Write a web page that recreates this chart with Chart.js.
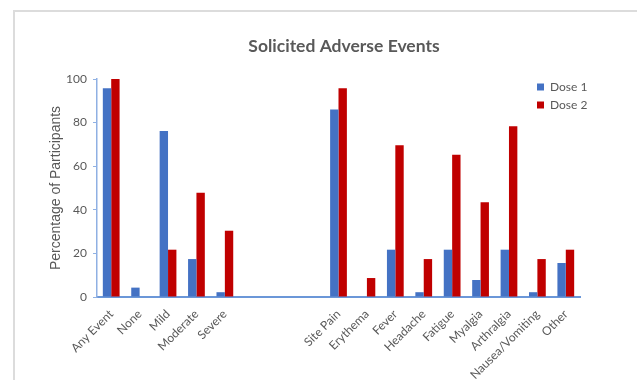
<!DOCTYPE html>
<html>
<head>
<meta charset="utf-8">
<script src="https://cdn.jsdelivr.net/npm/chart.js@4/dist/chart.umd.min.js"></script>
<style>
  html, body { margin: 0; padding: 0; background: #fff; }
  #wrap { position: relative; width: 637px; height: 380px; overflow: hidden; }
  #frame { position: absolute; left: 13px; top: 10px; width: 700px; height: 400px;
           border-top: 2px solid #dcdcdc; border-left: 2px solid #dcdcdc; }
  canvas { position: absolute; left: 0; top: 0; }
</style>
</head>
<body>
<div id="wrap">
  <div id="frame"></div>
  <canvas id="aeChart" width="637" height="380"></canvas>
</div>
<script>
// ---------------- DATA ----------------
const categories = ["Any Event", "None", "Mild", "Moderate", "Severe", "", "", "",
    "Site Pain", "Erythema", "Fever", "Headache", "Fatigue", "Myalgia",
    "Arthralgia", "Nausea/Vomiting", "Other"];

const dose1 = [95.7, 4.3, 76.1, 17.4, 2.2, null, null, null,
    86.0, 0, 21.7, 2.2, 21.7, 7.8, 21.7, 2.2, 15.6];

const dose2 = [100, 0, 21.7, 47.8, 30.4, null, null, null,
    95.7, 8.7, 69.6, 17.4, 65.2, 43.5, 78.3, 17.4, 21.7];

const yTicks = [0, 20, 40, 60, 80, 100];

// ---------------- LAYOUT TWEAKS ----------------
// move title a bit right and put the legend in the top right corner of the plot
const nudge = {
    id: "nudge",
    afterLayout(chart) {
        const a = chart.chartArea;
        const t = chart.titleBlock;
        if (t) {
            t.left += 48;
            t.right += 48;
        }
        const lg = chart.legend;
        if (lg) {
            lg.left = a.right - 49;
            lg.right = lg.left + 70;
            lg.top = a.top - 4;
            lg.bottom = lg.top + 60;
        }
    }
};

const grey = "#595959";

new Chart(document.getElementById("aeChart"), {
    type: "bar",
    data: {
        labels: categories,
        datasets: [
            { label: "Dose 1", data: dose1, backgroundColor: "#4472C4" },
            { label: "Dose 2", data: dose2, backgroundColor: "#C00000" }
        ]
    },
    options: {
        responsive: false,
        animation: false,
        layout: { padding: { left: 12, right: 57, top: 0, bottom: 0 } },
        datasets: { bar: { categoryPercentage: 0.59, barPercentage: 1 } },
        plugins: {
            title: {
                display: true,
                text: "Solicited Adverse Events",
                color: grey,
                font: { family: "Lato", size: 17.5, weight: "bold" },
                padding: { top: 36, bottom: 22 }
            },
            legend: {
                position: "chartArea",
                align: "start",
                labels: {
                    boxWidth: 7,
                    boxHeight: 7,
                    padding: 6,
                    color: grey,
                    font: { family: "Lato", size: 12 }
                }
            },
            tooltip: { enabled: false }
        },
        scales: {
            x: {
                grid: { display: false },
                border: { color: "#6b97d8", width: 2 },
                ticks: {
                    color: grey,
                    font: { family: "Lato", size: 12 },
                    minRotation: 45,
                    maxRotation: 45,
                    autoSkip: false,
                    padding: 2
                },
                afterFit(s) { s.height = 83; }
            },
            y: {
                min: 0,
                max: 100,
                afterBuildTicks(s) { s.ticks = yTicks.map(v => ({ value: v })); },
                grid: { display: true, drawOnChartArea: false, tickLength: 4, color: "#8fb0e3" },
                border: { color: "#8fb0e3", width: 1.5 },
                ticks: {
                    color: grey,
                    font: { family: "Lato", size: 12 },
                    padding: 6
                },
                title: {
                    display: true,
                    text: "Percentage of Participants",
                    color: grey,
                    font: { family: "Liberation Sans", size: 14 },
                    padding: { top: 36, bottom: 0 }
                },
                afterFit(s) { s.width = 85; }
            }
        }
    },
    plugins: [nudge]
});
</script>
</body>
</html>
